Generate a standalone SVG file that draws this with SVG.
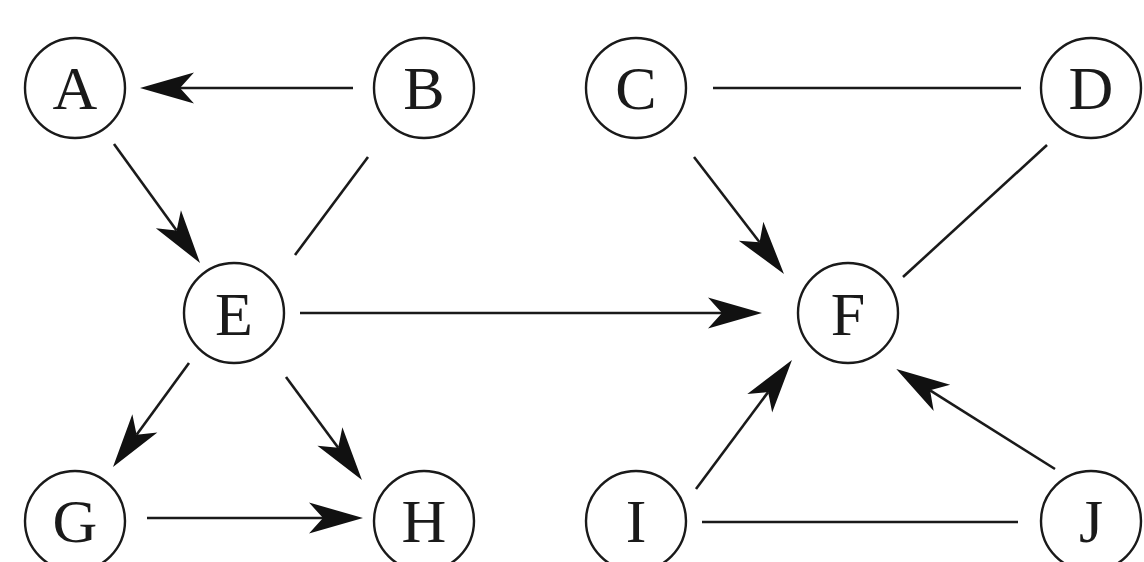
<svg xmlns="http://www.w3.org/2000/svg" width="1144" height="562" viewBox="0 0 1144 562">
  <style>
    .node circle { fill: none; stroke: #1a1a1a; stroke-width: 2.4; }
    .node text { font-family: "Liberation Serif", "Times New Roman", serif; font-size: 62px; fill: #1a1a1a; text-anchor: middle; }
    .edge { stroke: #1a1a1a; stroke-width: 2.6; fill: none; }
    .arrow { marker-end: url(#head); }
  </style>
  <defs>
    <!-- swept-back arrowhead; the notch sits on the line end, tip 40px ahead -->
    <marker id="head" markerUnits="userSpaceOnUse" viewBox="-16 -17 58 34" refX="0" refY="0" markerWidth="58" markerHeight="34" orient="auto">
      <path d="M40,0 L-14,-15.5 L0,0 L-14,15.5 Z" fill="#111"/>
    </marker>
  </defs>
  <rect width="1144" height="562" fill="#ffffff"/>

  <g id="connectors">
    <line class="edge arrow" x1="353" y1="88" x2="180" y2="88"/>
    <line class="edge arrow" x1="114" y1="144" x2="176.6" y2="230.6"/>
    <line class="edge" x1="368" y1="157" x2="295" y2="255"/>
    <line class="edge" x1="713" y1="88" x2="1021" y2="88"/>
    <line class="edge arrow" x1="694" y1="157" x2="759.6" y2="242.3"/>
    <line class="edge" x1="1047" y1="145" x2="903" y2="277"/>
    <line class="edge arrow" x1="300" y1="313" x2="722" y2="313"/>
    <line class="edge arrow" x1="189" y1="363" x2="136.6" y2="434.7"/>
    <line class="edge arrow" x1="286" y1="377" x2="338.2" y2="447.8"/>
    <line class="edge arrow" x1="147" y1="518" x2="323" y2="518"/>
    <line class="edge arrow" x1="696" y1="489" x2="768.1" y2="392.1"/>
    <line class="edge arrow" x1="1055" y1="469" x2="930.1" y2="390.3"/>
    <line class="edge" x1="702" y1="522" x2="1018" y2="522"/>
  </g>

  <g id="A" class="node"><circle cx="75" cy="88" r="50"/><text x="75" y="109">A</text></g>
  <g id="B" class="node"><circle cx="424" cy="88" r="50"/><text x="424" y="109">B</text></g>
  <g id="C" class="node"><circle cx="636" cy="88" r="50"/><text x="636" y="109">C</text></g>
  <g id="D" class="node"><circle cx="1091" cy="88" r="50"/><text x="1091" y="109">D</text></g>
  <g id="E" class="node"><circle cx="234" cy="313" r="50"/><text x="234" y="335">E</text></g>
  <g id="F" class="node"><circle cx="848" cy="313" r="50"/><text x="848" y="335">F</text></g>
  <g id="G" class="node"><circle cx="75" cy="521" r="50"/><text x="75" y="542">G</text></g>
  <g id="H" class="node"><circle cx="424" cy="521" r="50"/><text x="424" y="542">H</text></g>
  <g id="I" class="node"><circle cx="636" cy="521" r="50"/><text x="636" y="542">I</text></g>
  <g id="J" class="node"><circle cx="1091" cy="521" r="50"/><text x="1091" y="542">J</text></g>
</svg>
